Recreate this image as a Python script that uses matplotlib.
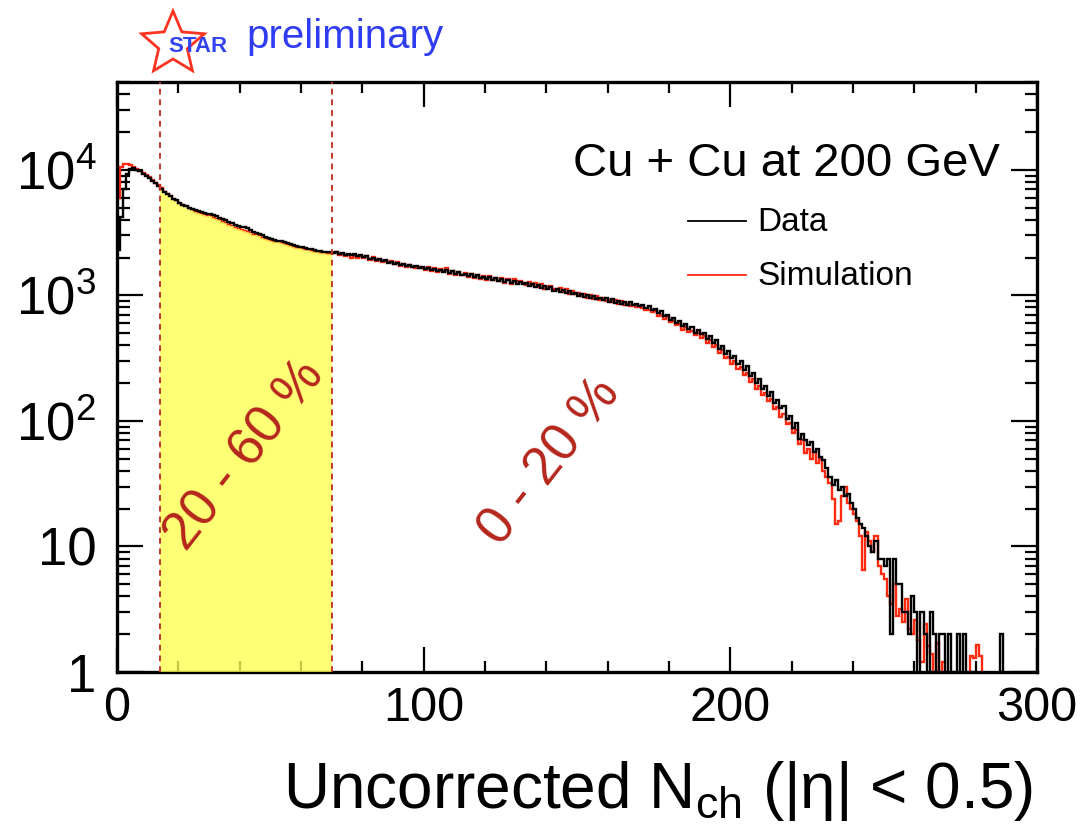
import numpy as np
import matplotlib
matplotlib.use("Agg")
import matplotlib.pyplot as plt
from matplotlib.patches import Polygon
from matplotlib.ticker import MultipleLocator, LogLocator, NullFormatter

plt.rcParams['font.family'] = ['Liberation Sans', 'DejaVu Sans']
plt.rcParams['mathtext.fontset'] = 'custom'
plt.rcParams['mathtext.rm'] = 'Liberation Sans'
plt.rcParams['mathtext.it'] = 'Liberation Sans:italic'

# uncorrected Nch, one bin per unit, 0..300
bin_edges = np.arange(0, 301)

data_counts = [
    2300, 4200, 7000, 9300, 10200, 10300, 10000, 9700, 9300, 9000,
    8600, 8200, 7800, 7400, 7000, 6700, 6450, 6150, 5900, 5700,
    5450, 5280, 5120, 5000, 4900, 4800, 4720, 4640, 4560, 4480,
    4430, 4330, 4250, 4150, 4020, 3950, 3830, 3760, 3650, 3560,
    3480, 3470, 3460, 3300, 3220, 3150, 3060, 3000, 2930, 2870,
    2820, 2780, 2730, 2700, 2640, 2610, 2560, 2520, 2480, 2440,
    2410, 2380, 2350, 2330, 2290, 2270, 2250, 2230, 2210, 2200,
    2190, 2230, 2150, 2180, 2110, 2150, 2080, 2120, 2040, 2090,
    2020, 2060, 1960, 2000, 1920, 1950, 1870, 1910, 1820, 1850,
    1780, 1820, 1740, 1770, 1710, 1750, 1670, 1710, 1640, 1680,
    1620, 1660, 1590, 1630, 1560, 1600, 1530, 1580, 1510, 1550,
    1480, 1520, 1450, 1490, 1430, 1470, 1400, 1440, 1380, 1410,
    1360, 1390, 1330, 1370, 1300, 1350, 1280, 1320, 1260, 1300,
    1240, 1280, 1220, 1250, 1190, 1230, 1170, 1210, 1150, 1180,
    1120, 1160, 1090, 1130, 1070, 1110, 1040, 1080, 1020, 1050,
    990, 1030, 970, 1000, 950, 985, 930, 960, 910, 945,
    890, 930, 875, 905, 860, 890, 845, 880, 830, 860,
    820, 840, 790, 815, 760, 780, 720, 745, 680, 700,
    640, 665, 600, 625, 570, 595, 540, 560, 505, 530,
    490, 505, 450, 470, 415, 440, 375, 395, 340, 360,
    315, 330, 285, 300, 255, 272, 228, 240, 200, 215,
    178, 190, 158, 170, 140, 148, 126, 132, 104, 110,
    88, 96, 72, 78, 70, 64, 68, 57, 60, 52,
    49, 42, 36, 31, 34, 28, 30, 25, 26, 22,
    20, 17, 15, 14, 12, 10, 9, 11, 8, 8,
    7, 8, 2, 8, 5, 5, 3, 3, 2, 4,
    3, 0, 3, 2, 1, 3, 2, 0, 2, 2,
    0, 2, 1, 0, 2, 0, 2, 0, 1, 0,
    0, 0, 0, 0, 0, 0, 0, 0, 2, 0,
    0, 0, 0, 0, 0, 0, 0, 0, 0, 0,
]

sim_counts = [
    6000, 10500, 11200, 11100, 10900, 10500, 10100, 9700, 9400, 9100,
    8700, 8300, 7900, 7500, 7100, 6600, 6400, 6200, 5800, 5600,
    5300, 5250, 5100, 4850, 4750, 4650, 4550, 4480, 4380, 4300,
    4250, 4150, 4050, 3950, 3850, 3750, 3650, 3550, 3450, 3400,
    3300, 3250, 3200, 3150, 3050, 3000, 2950, 2880, 2820, 2780,
    2720, 2680, 2640, 2600, 2560, 2520, 2480, 2440, 2400, 2380,
    2340, 2300, 2280, 2240, 2220, 2200, 2180, 2160, 2150, 2140,
    2160, 2200, 2080, 2120, 2040, 2090, 2000, 2070, 1990, 2040,
    1990, 2060, 1920, 2010, 1880, 1960, 1850, 1890, 1830, 1860,
    1760, 1850, 1720, 1790, 1690, 1730, 1690, 1660, 1670, 1640,
    1600, 1690, 1570, 1640, 1540, 1620, 1560, 1640, 1490, 1560,
    1460, 1530, 1460, 1500, 1410, 1480, 1380, 1460, 1350, 1420,
    1330, 1420, 1320, 1380, 1290, 1370, 1260, 1360, 1240, 1340,
    1300, 1310, 1260, 1210, 1280, 1200, 1250, 1170, 1230, 1130,
    1160, 1180, 1130, 1100, 1150, 1070, 1120, 1030, 1090, 1020,
    1050, 990, 1020, 960, 1010, 940, 990, 920, 960, 900,
    920, 880, 910, 860, 895, 830, 870, 820, 845, 800,
    810, 790, 770, 760, 730, 745, 690, 700, 650, 670,
    610, 630, 580, 590, 530, 560, 510, 520, 480, 500,
    460, 470, 420, 440, 390, 400, 350, 365, 315, 320,
    285, 300, 260, 268, 232, 242, 205, 215, 178, 190,
    162, 168, 145, 150, 125, 130, 108, 114, 95, 96,
    80, 84, 66, 70, 55, 60, 50, 56, 46, 50,
    40, 36, 32, 24, 15, 16, 25, 30, 22, 20,
    18, 16, 12, 6.5, 13, 11, 9, 12, 7, 6,
    5.5, 4, 3.5, 5, 2.8, 3.2, 2.5, 3.8, 2.2, 2,
    2.6, 1.8, 1.2, 2.4, 1.6, 1.4, 0, 1.7, 0, 1.2,
    0, 0, 0, 0, 0, 0, 0, 0, 1.35, 1.3,
    1.65, 1.35, 0, 0, 0, 0, 0, 0, 0, 0,
    0, 0, 0, 0, 0, 0, 0, 0, 0, 0,
]

cut_lo, cut_hi = 14, 70        # 20-60 % centrality window
y_ticks = [1, 10, 100, 1000, 10000]
y_ticklabels = ['1', '10', r'$\mathregular{10^{2}}$', r'$\mathregular{10^{3}}$', r'$\mathregular{10^{4}}$']
x_ticks = [0, 100, 200, 300]

W, H = 1083, 830
fig = plt.figure(figsize=(W / 100, H / 100), dpi=100)
ax = fig.add_axes([117 / W, 1 - 672 / H, (1037 - 117) / W, (672 - 82) / H])
ax.set_yscale('log')

red = '#ff2a10'
dark_red = '#b5261c'

ax.stairs(sim_counts, bin_edges, color=red, lw=1.7, zorder=2)
ax.stairs(sim_counts[cut_lo:cut_hi], bin_edges[cut_lo:cut_hi + 1], fill=True, baseline=1,
          color='#ffff50', alpha=0.78, zorder=3)
ax.stairs(data_counts, bin_edges, color='black', lw=1.7, zorder=4)

for xc in (cut_lo, cut_hi):
    ax.axvline(xc, color='#c0392b', lw=1.4, ls=(0, (3, 2.5)), zorder=5)

ax.set_xlim(0, 300)
ax.set_ylim(1, 5e4)
ax.set_xticks(x_ticks)
ax.xaxis.set_minor_locator(MultipleLocator(20))
ax.set_yticks(y_ticks)
ax.set_yticklabels(y_ticklabels)
ax.yaxis.set_minor_locator(LogLocator(base=10, subs=np.arange(2, 10)))
ax.yaxis.set_minor_formatter(NullFormatter())
ax.tick_params(which='both', direction='in', top=True, right=True, width=1.6, color='black')
ax.tick_params(axis='x', which='major', length=18, labelsize=35, pad=10)
ax.tick_params(axis='x', which='minor', length=8)
ax.tick_params(axis='y', which='major', length=19, labelsize=38, pad=15)
ax.tick_params(axis='y', which='minor', length=9)
for s in ax.spines.values():
    s.set_linewidth(2.4)

# overlay in pixel coordinates for the annotations
ov = fig.add_axes([0, 0, 1, 1], zorder=10)
ov.set_xlim(0, W)
ov.set_ylim(H, 0)
ov.axis('off')
ov.patch.set_alpha(0)

# STAR logo
ang = np.deg2rad(-90 + 36 * np.arange(10))
rad = np.where(np.arange(10) % 2 == 0, 33, 15)
star = Polygon(np.column_stack([173 + rad * np.cos(ang), 44 + rad * np.sin(ang)]),
               closed=True, fill=False, edgecolor='#ff3322', lw=2)
ov.add_patch(star)
ov.text(198, 52, 'STAR', color='#3344ee', fontsize=16, fontweight='bold', ha='center', va='baseline')
ov.text(246, 48, 'preliminary', color='#2f3cf2', fontsize=29, ha='left', va='baseline')

ov.text(1000, 176, 'Cu + Cu at 200 GeV', fontsize=34, ha='right', va='baseline')
ov.plot([688, 746], [221, 221], color='black', lw=1.3)
ov.plot([688, 746], [275, 275], color=red, lw=1.3)
ov.text(757, 231, 'Data', fontsize=24, ha='left', va='baseline')
ov.text(757, 285, 'Simulation', fontsize=24, ha='left', va='baseline')

ov.text(245, 455, '20 - 60 %', fontsize=38, color=dark_red, rotation=52,
        ha='center', va='center', rotation_mode='anchor')
ov.text(550, 462, '0 - 20 %', fontsize=38, color=dark_red, rotation=52,
        ha='center', va='center', rotation_mode='anchor')

ov.text(1033, 808, r'Uncorrected N$_{\mathregular{ch}}$ (|η| < 0.5)', fontsize=46,
        ha='right', va='baseline')

fig.savefig('out.png', dpi=100)
